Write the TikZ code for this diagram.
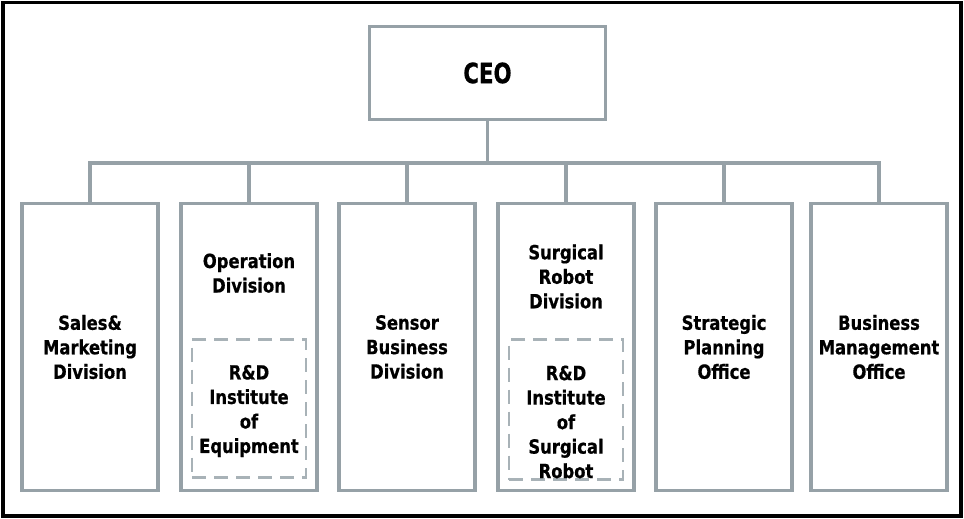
\documentclass[tikz,border=0pt]{standalone}
\usepackage{fontspec}
\newfontfamily\orgfont[FakeStretch=0.84,FakeBold=0.6]{DejaVu Sans}
\newfontfamily\ceofont[FakeStretch=0.76,FakeBold=0.6]{DejaVu Sans}
\definecolor{boxgray}{RGB}{150,161,167}
\definecolor{dashgray}{RGB}{168,178,183}
\tikzset{
	unit/.style={draw=boxgray, line width=3.2pt, minimum width=136pt, minimum height=287pt, inner sep=0pt, align=center},
	inst/.style={draw=dashgray, line width=2.8pt, dash pattern=on 14pt off 8pt, minimum width=114pt, minimum height=138pt, inner sep=0pt},
	txt/.style={align=center, font=\orgfont\bfseries\fontsize{19.5}{24.5}\selectfont},
	conn/.style={draw=boxgray, line width=3.2pt}
}
\begin{document}
\begin{tikzpicture}[x=1pt,y=-1pt]
	\useasboundingbox (0,0) rectangle (964,519);
	\draw [line width=3.2pt] (3,2.5) rectangle (961,516);
	\node[draw=boxgray, line width=3.2pt, minimum width=236pt, minimum height=93pt, font=\ceofont\bfseries\fontsize{28}{32}\selectfont] (ceo) at (487.5,73) {CEO};
	\node[unit, txt] (sales) at (90,347) {Sales\&\\Marketing\\Division};
	\node[unit] (oper) at (249,347) {};
	\node[unit, txt] (sensor) at (407,347) {Sensor\\Business\\Division};
	\node[unit] (surg) at (566,347) {};
	\node[unit, txt] (strat) at (724,347) {Strategic\\Planning\\Office};
	\node[unit, txt] (bizmgmt) at (879,347) {Business\\Management\\Office};
	\node[txt] (operlbl) at (249,273) {Operation\\Division};
	\node[txt] (surglbl) at (566,276.5) {Surgical\\Robot\\Division};
	\node[inst] (equipinst) at (249,408.5) {};
	\node[inst, minimum height=140pt] (surginst) at (566,409.5) {};
	\node[txt] (equiplbl) at (249,411) {R\&D\\Institute\\of\\Equipment};
	\node[txt] (surginstlbl) at (566,422) {R\&D\\Institute\\of\\Surgical\\Robot};
	\coordinate (bus) at (487.5,163);
	\draw[conn] (ceo.south) -- (ceo.south |- bus);
	\draw[conn, line cap=rect] (sales.north |- bus) -- (bizmgmt.north |- bus);
	\foreach \b in {sales,oper,sensor,surg,strat,bizmgmt}
		\draw[conn] (\b.north) -- (\b.north |- bus);
\end{tikzpicture}
\end{document}
